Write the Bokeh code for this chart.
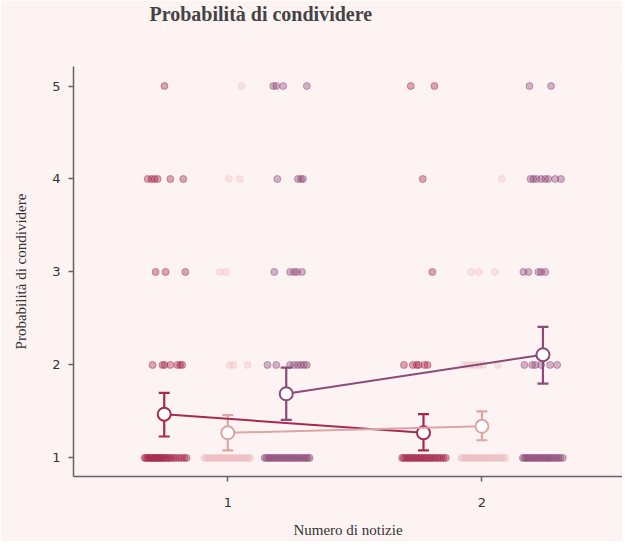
from bokeh.plotting import figure
from bokeh.models import ColumnDataSource, Whisker, TeeHead, Title, Range1d, FixedTicker
from bokeh.embed import file_html
from bokeh.resources import INLINE

# ---------------- data ----------------
title_text = "Probabilità di condividere"
levels = [1, 2, 3, 4, 5]
numero = [1, 2]
group_names = ["rosso", "rosa", "viola"]
colors = {"rosso": "#a62a50", "rosa": "#dca6a6", "viola": "#8c4a78"}
point_colors = {"rosso": "#a62a50", "rosa": "#eab6ba", "viola": "#8c4a78"}

# jittered observations (x positions already jittered), keyed by response level
rosso_1 = {
    5: [0.751],
    4: [0.685, 0.700, 0.712, 0.724, 0.774, 0.825],
    3: [0.716, 0.755, 0.833],
    2: [0.704, 0.743, 0.751, 0.774, 0.802, 0.813, 0.821],
    1: [0.673, 0.678, 0.684, 0.689, 0.695, 0.699, 0.704, 0.709, 0.713, 0.718, 0.722,
        0.727, 0.731, 0.736, 0.741, 0.746, 0.752, 0.758, 0.765, 0.771, 0.779, 0.788,
        0.797, 0.808, 0.819, 0.829, 0.838],
}
rosa_1 = {
    5: [1.054],
    4: [1.004, 1.047],
    3: [0.969, 0.992],
    2: [1.008, 1.023, 1.078],
    1: [0.907, 0.913, 0.921, 0.928, 0.935, 0.943, 0.950, 0.957, 0.964, 0.972, 0.979,
        0.986, 0.993, 1.000, 1.007, 1.015, 1.022, 1.030, 1.037, 1.045, 1.052, 1.060,
        1.068, 1.075, 1.082, 1.088],
}
viola_1 = {
    5: [1.179, 1.191, 1.218, 1.311],
    4: [1.195, 1.276, 1.288, 1.296],
    3: [1.183, 1.245, 1.261, 1.272, 1.292],
    2: [1.156, 1.191, 1.245, 1.261, 1.276, 1.288, 1.300, 1.311],
    1: [1.145, 1.152, 1.160, 1.167, 1.175, 1.182, 1.190, 1.198, 1.206, 1.213, 1.221,
        1.229, 1.237, 1.245, 1.252, 1.260, 1.268, 1.276, 1.284, 1.292, 1.300, 1.308,
        1.315, 1.322],
}
rosso_2 = {
    5: [1.720, 1.813],
    4: [1.767],
    3: [1.805],
    2: [1.693, 1.728, 1.743, 1.751, 1.774, 1.786],
    1: [1.686, 1.692, 1.699, 1.706, 1.712, 1.719, 1.726, 1.732, 1.739, 1.745, 1.752,
        1.759, 1.766, 1.773, 1.780, 1.787, 1.794, 1.801, 1.808, 1.816, 1.824, 1.832,
        1.840, 1.849, 1.858],
}
rosa_2 = {
    5: [],
    4: [2.078],
    3: [1.957, 1.988, 2.051],
    2: [1.930, 1.945, 1.960, 1.975, 1.990, 2.005, 2.062],
    1: [1.918, 1.925, 1.932, 1.939, 1.947, 1.954, 1.961, 1.969, 1.976, 1.983, 1.991,
        1.998, 2.006, 2.013, 2.021, 2.028, 2.036, 2.044, 2.052, 2.060, 2.068, 2.076,
        2.084, 2.092],
}
viola_2 = {
    5: [2.187, 2.272],
    4: [2.191, 2.202, 2.214, 2.233, 2.249, 2.261, 2.288, 2.311],
    3: [2.163, 2.183, 2.222, 2.233, 2.249],
    2: [2.167, 2.198, 2.210, 2.233, 2.268, 2.296],
    1: [2.161, 2.167, 2.174, 2.181, 2.188, 2.195, 2.202, 2.210, 2.217, 2.224, 2.231,
        2.239, 2.246, 2.254, 2.261, 2.268, 2.276, 2.284, 2.292, 2.300, 2.308, 2.318],
}
points = {"rosso": [rosso_1, rosso_2], "rosa": [rosa_1, rosa_2], "viola": [viola_1, viola_2]}

# group means and intervals (x position of each mean, mean, lower, upper)
mean_x = {"rosso": [0.75, 1.77], "rosa": [1.0, 2.0], "viola": [1.23, 2.24]}
mean_y = {"rosso": [1.47, 1.27], "rosa": [1.27, 1.34], "viola": [1.69, 2.11]}
lower_y = {"rosso": [1.23, 1.08], "rosa": [1.08, 1.19], "viola": [1.41, 1.80]}
upper_y = {"rosso": [1.70, 1.47], "rosa": [1.46, 1.50], "viola": [1.97, 2.41]}

# ---------------- figure ----------------
BG = "#fdf3f3"
p = figure(width=622, height=541, output_backend="svg", toolbar_location=None,
           x_range=Range1d(0.393, 2.553), y_range=Range1d(0.80, 5.21),
           background_fill_color=BG, border_fill_color=BG,
           min_border_left=73, min_border_right=0, min_border_bottom=65, min_border_top=0,
           outline_line_color=None)

p.title = Title(text=title_text, align="left", offset=76,
                text_font="Liberation Serif", text_font_size="20px",
                text_font_style="bold", text_color="#444444", standoff=4,
                vertical_align="top")
# spacer panel between title and plot frame
p.add_layout(Title(text=" ", text_font_size="10px", standoff=25,
                   text_color=BG), "above")

p.xgrid.visible = False
p.ygrid.visible = False

for g in group_names:
    c = point_colors[g]
    xs, ys = [], []
    for d in points[g]:
        for lv in levels:
            xs += d[lv]
            ys += [lv] * len(d[lv])
    fa = 0.4 if g != "rosa" else 0.3
    la = 0.45 if g != "rosa" else 0.3
    p.scatter(xs, ys, size=7, marker="circle", fill_color=c, fill_alpha=fa,
              line_color=c, line_alpha=la, line_width=1)

for g in group_names:
    c = colors[g]
    src = ColumnDataSource(dict(x=mean_x[g], y=mean_y[g], lo=lower_y[g], up=upper_y[g]))
    p.line("x", "y", source=src, line_color=c, line_width=2)
    w = Whisker(base="x", lower="lo", upper="up", source=src, dimension="height",
                line_color=c, line_width=2.2,
                upper_head=TeeHead(size=11, line_color=c, line_width=2.2),
                lower_head=TeeHead(size=11, line_color=c, line_width=2.2))
    p.add_layout(w)
    p.scatter("x", "y", source=src, size=13, marker="circle", fill_color="white",
              line_color=c, line_width=2)

for ax in (p.xaxis, p.yaxis):
    ax.axis_line_color = "#5f6470"
    ax.axis_line_width = 1.5
    ax.major_tick_line_color = "#5f6470"
    ax.major_tick_line_width = 1.5
    ax.major_tick_in = 0
    ax.major_tick_out = 5
    ax.minor_tick_line_color = None
    ax.major_label_text_font = "DejaVu Sans"
    ax.major_label_text_font_size = "13px"
    ax.major_label_text_color = "#333333"
    ax.axis_label_text_font = "Liberation Serif"
    ax.axis_label_text_font_size = "15px"
    ax.axis_label_text_font_style = "normal"
    ax.axis_label_text_color = "#333333"

p.xaxis.ticker = FixedTicker(ticks=numero)
p.yaxis.ticker = FixedTicker(ticks=levels)
p.xaxis.axis_label = "Numero di notizie"
p.yaxis.axis_label = "Probabilità di condividere"
p.xaxis.major_label_standoff = 16
p.yaxis.major_label_standoff = 8
p.xaxis.axis_label_standoff = 12
p.yaxis.axis_label_standoff = 20

open("out.html", "w").write(file_html(p, INLINE))
